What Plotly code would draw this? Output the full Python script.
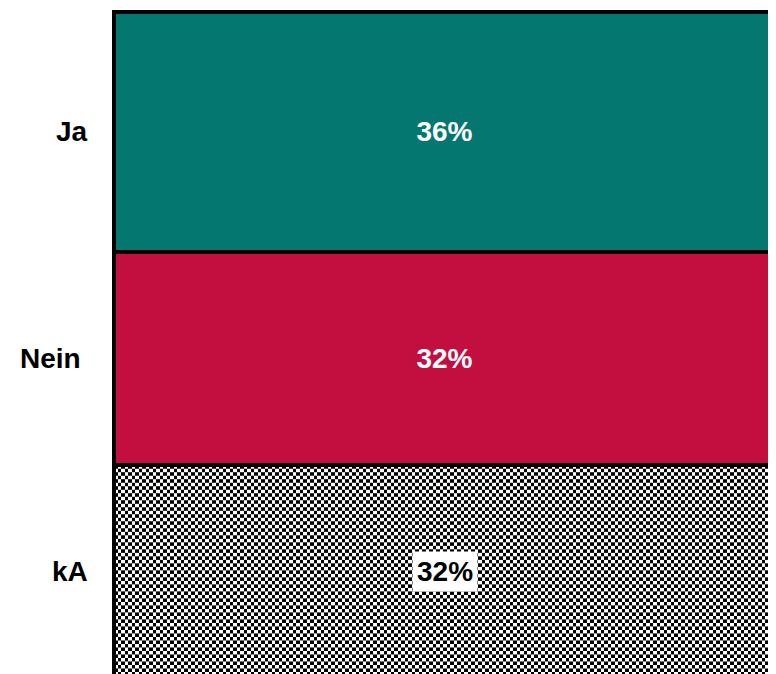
import base64
import plotly.graph_objects as go

# Data
categories = ["Ja", "Nein", "kA"]
values = [36, 32, 32]
value_labels = ["36%", "32%", "32%"]
left_labels = ["Ja", "Nein\u00a0", "kA"]

colors = {"Ja": "#047870", "Nein": "#C30F3F", "kA": "rgba(0,0,0,0)"}

FONT = "Liberation Sans, Arial, sans-serif"

# stacking from bottom: kA, Nein, Ja
order = ["kA", "Nein", "Ja"]
bottoms = {}
acc = 0
for c in order:
    bottoms[c] = acc
    acc += values[categories.index(c)]

fig = go.Figure()
for c in order:
    i = categories.index(c)
    show_text = c != "kA"
    fig.add_trace(go.Bar(
        x=[0], y=[values[i]], width=1, name=c,
        marker=dict(color=colors[c], line=dict(color="black", width=3.5)),
        text=[value_labels[i]] if show_text else None,
        textposition="inside" if show_text else "none",
        insidetextanchor="middle",
        textangle=0,
        constraintext="none",
        textfont=dict(color="white", size=28, family=FONT, weight="bold"),
        hoverinfo="skip",
    ))

# Checkerboard pattern for kA (style image placed on the kA segment)
W, H = 661, 213
s = 3.5
svg = (f'<svg xmlns="http://www.w3.org/2000/svg" width="{W}" height="{H}" viewBox="0 0 {W} {H}" '
       f'preserveAspectRatio="none" shape-rendering="crispEdges"><defs>'
       f'<pattern id="c" width="{2*s}" height="{2*s}" patternUnits="userSpaceOnUse">'
       f'<rect width="{2*s}" height="{2*s}" fill="white"/><rect width="{s}" height="{s}" fill="black"/>'
       f'<rect x="{s}" y="{s}" width="{s}" height="{s}" fill="black"/></pattern></defs>'
       f'<rect width="{W}" height="{H}" fill="url(#c)"/></svg>')
src = "data:image/svg+xml;base64," + base64.b64encode(svg.encode()).decode()
ka_i = categories.index("kA")
fig.add_layout_image(dict(
    source=src, xref="x", yref="y", x=-0.5, y=bottoms["kA"] + values[ka_i],
    sizex=1, sizey=values[ka_i], xanchor="left", yanchor="top",
    sizing="stretch", layer="below",
))

# kA value label with white background
fig.add_annotation(
    x=0, y=bottoms["kA"] + values[ka_i] / 2, xref="x", yref="y",
    text=value_labels[ka_i], showarrow=False, bgcolor="white", borderpad=4,
    font=dict(color="black", size=28, family=FONT, weight="bold"),
)

# Left category labels
for c, lab in zip(categories, left_labels):
    i = categories.index(c)
    fig.add_annotation(
        x=0, xref="paper", xanchor="right", xshift=3,
        y=bottoms[c] + values[i] / 2, yref="y",
        text=lab, showarrow=False,
        font=dict(color="black", size=28, family=FONT, weight="bold"),
    )

fig.update_layout(
    barmode="stack",
    width=768, height=666,
    margin=dict(l=79, r=0, t=0, b=0),
    paper_bgcolor="white", plot_bgcolor="rgba(0,0,0,0)",
    showlegend=False,
    xaxis=dict(visible=False, range=[-0.5 - 27 / 661, 0.5 + 1 / 661]),
    yaxis=dict(visible=False, range=[0.675, 100.6]),
)

fig.write_html("out.html")
